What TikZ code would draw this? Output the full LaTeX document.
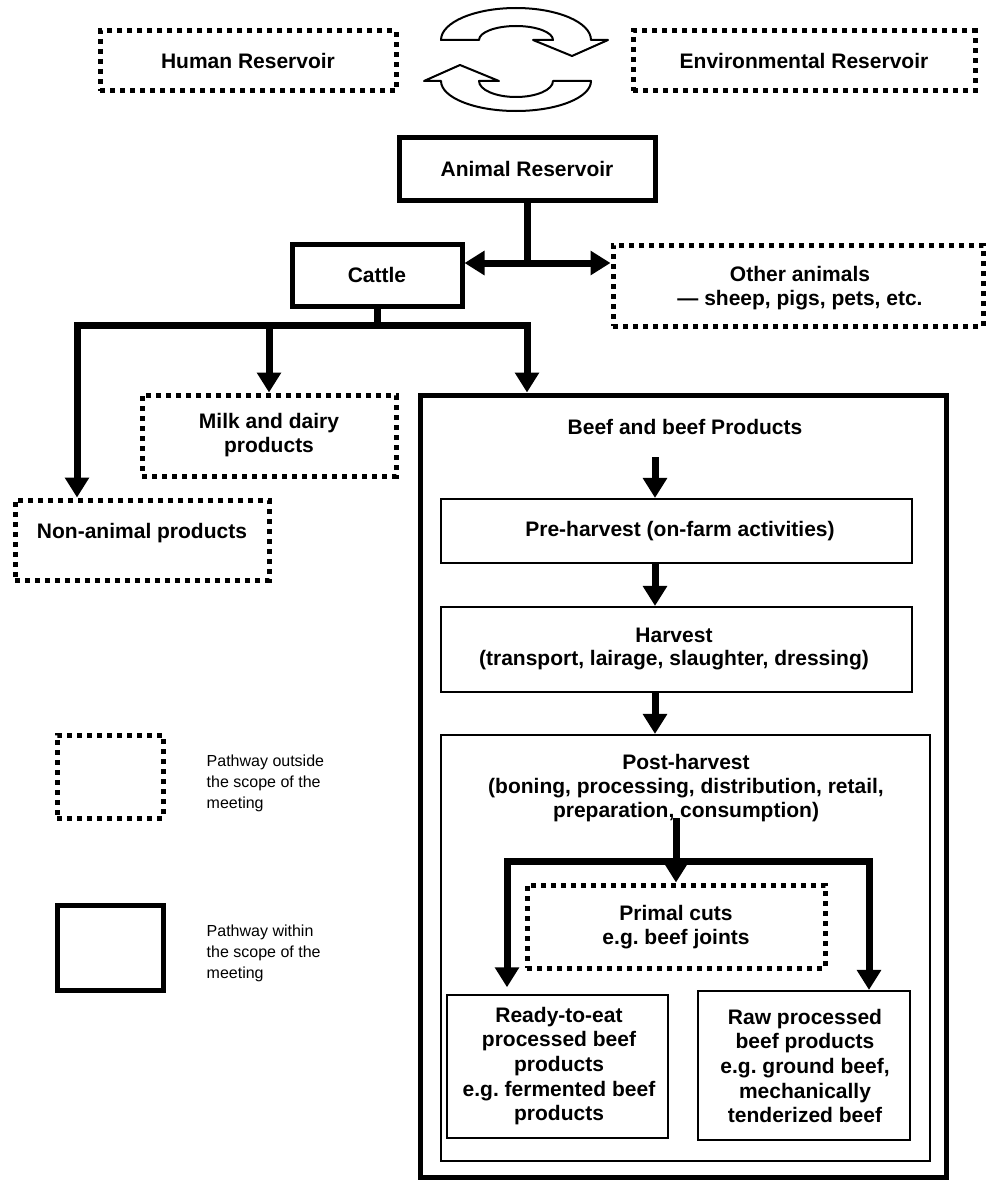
\documentclass[tikz,border=0pt]{standalone}
\usepackage{fontspec}
\setmainfont{Liberation Sans}
\frenchspacing
\usetikzlibrary{arrows.meta,fit}
\tikzset{
  txt/.style={font=\bfseries\fontsize{15.75}{17.8}\selectfont, align=center, inner sep=0pt},
  legtxt/.style={font=\fontsize{12}{15.75}\selectfont, align=left, anchor=west},
  dotbox/.style={draw, line width=3.75pt, dash pattern=on 3.75pt off 3.75pt, inner sep=0pt},
  thickbox/.style={draw, line width=3.75pt, inner sep=0pt},
  thinbox/.style={draw, line width=1.6pt, inner sep=0pt},
  conn/.style={line width=5.25pt},
  arr/.style={-{Triangle[length=15pt,width=17.5pt]}},
  cyc/.style={draw, line width=1.5pt, fill=white, line join=round},
}
\begin{document}
\begin{tikzpicture}[x=0.75pt,y=-0.75pt]
\useasboundingbox (0,0) rectangle (990,1181);

% top reservoirs
\node[dotbox, fit={(100,31)(396,91)}] (hum) {};
\node[txt] (humt) at (hum.center) {Human Reservoir};
\node[dotbox, fit={(633,31)(975,91)}] (env) {};
\node[txt] (envt) at (env.center) {Environmental Reservoir};

% cycle arrows
\draw[cyc] (441,40) arc[start angle=180, end angle=360, x radius=75, y radius=32]
  -- (608,40) -- (572,56) -- (533,40) -- (553,40)
  arc[start angle=0, end angle=-180, x radius=37, y radius=14] -- cycle;
\draw[cyc] (591,81) arc[start angle=0, end angle=180, x radius=75, y radius=30]
  -- (424,81) -- (460,65) -- (499,81) -- (479,81)
  arc[start angle=180, end angle=0, x radius=37, y radius=16] -- cycle;

% animal level
\node[thickbox, fit={(399,137)(655,200)}] (anim) {};
\node[txt] (animt) at (anim.center) {Animal Reservoir};
\node[thickbox, fit={(292,244)(462,306)}] (cattle) {};
\node[txt] (cattlet) at (cattle.center) {Cattle};
\node[dotbox, fit={(613,245)(983,326)}] (other) {};
\node[txt] (othert) at (800,288) {Other animals\\— sheep, pigs, pets, etc.};

\coordinate (j1) at (527,263);
\draw[conn] (anim.south) -- (j1);
\draw[conn,arr] (j1) -- (j1 -| cattle.east);
\draw[conn,arr] (j1) -- (j1 -| other.west);

% products
\node[dotbox, fit={(142,395)(396,476)}] (milk) {};
\node[txt] (milkt) at (269,435) {Milk and dairy\\products};
\node[dotbox, fit={(15,500)(269,580)}] (nonan) {};
\node[txt] (nonant) at (142,533) {Non-animal products};
\node[thickbox, fit={(420,395)(946,1177)}] (big) {};

\coordinate (j2) at (377,325);
\coordinate (cl) at (77,325);
\coordinate (cr) at (527,325);
\draw[conn] (cattle.south) -- (j2);
\draw[conn,arr] (j2) -- (cl) -- (cl |- nonan.north);
\draw[conn,arr] (j2) -- (cr) -- (cr |- big.north);
\draw[conn,arr] (milk.north |- j2) -- (milk.north);

% beef chain
\node[txt] (beef) at (685,427) {Beef and beef Products};
\node[thinbox, fit={(441,499)(912,563)}] (pre) {};
\node[txt] (pret) at (680,531) {Pre-harvest (on-farm activities)};
\node[thinbox, fit={(441,607)(912,692)}] (harv) {};
\node[txt] (harvt) at (674,649) {Harvest\\(transport, lairage, slaughter, dressing)};
\node[thinbox, fit={(441,735)(930,1161)}] (post) {};
\node[txt] (postt) at (686,788) {Post-harvest\\(boning, processing, distribution, retail,\\preparation, consumption)};

\coordinate (a1) at (655,457);
\draw[conn,arr] (a1) -- (a1 |- pre.north);
\draw[conn,arr] (a1 |- pre.south) -- (a1 |- harv.north);
\draw[conn,arr] (a1 |- harv.south) -- (a1 |- post.north);

\node[dotbox, fit={(527,885)(825,968)}] (primal) {};
\node[txt] (primalt) at (676,927) {Primal cuts\\e.g. beef joints};
\node[thinbox, fit={(447,995)(668,1138)}] (ready) {};
\node[txt, font=\bfseries\fontsize{15.75}{18.5}\selectfont] (readyt) at (559,1066) {Ready-to-eat\\processed beef\\products\\e.g. fermented beef\\products};
\node[thinbox, fit={(698,991)(910,1140)}] (raw) {};
\node[txt, font=\bfseries\fontsize{15.75}{18.5}\selectfont] (rawt) at (805,1066) {Raw processed\\beef products\\e.g. ground beef,\\mechanically\\tenderized beef};

\coordinate (c0) at (676,818);
\coordinate (hl) at (507,861);
\coordinate (hr) at (869,861);
\draw[conn,arr] (c0) -- (c0 |- primal.north);
\draw[conn,arr,shorten >=5pt] (c0 |- hl) -- (hl) -- (hl |- ready.north);
\draw[conn,arr] (c0 |- hl) -- (hr) -- (hr |- raw.north);

% legend
\node[dotbox, fit={(57,735)(163,818)}] (legout) {};
\node[legtxt] (legoutt) at (202,783) {Pathway outside\\the scope of the\\meeting};
\node[thickbox, fit={(57,905)(163,990)}] (legin) {};
\node[legtxt] (legint) at (202,953) {Pathway within\\the scope of the\\meeting};
\end{tikzpicture}
\end{document}
